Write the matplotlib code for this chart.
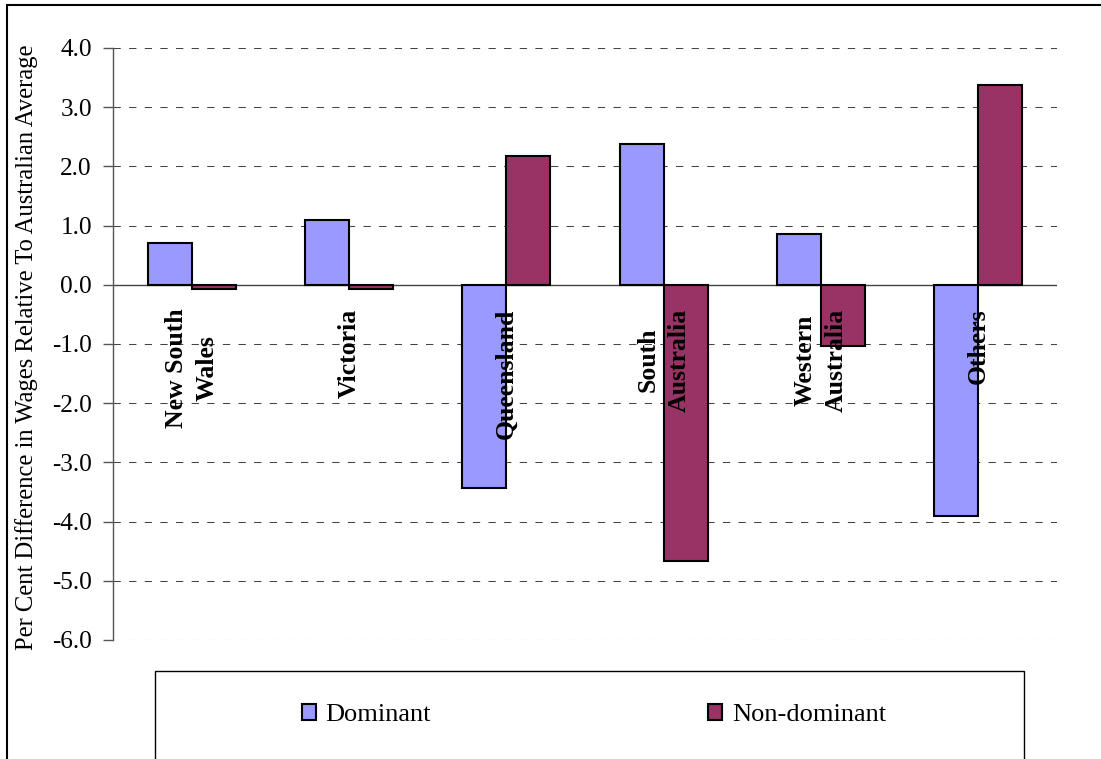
import matplotlib
matplotlib.use('Agg')
import matplotlib.pyplot as plt
from matplotlib.patches import Rectangle
import numpy as np

### wage differentials by state, dominant vs non-dominant
states = ['New South\nWales', 'Victoria', 'Queensland', 'South\nAustralia', 'Western\nAustralia', 'Others']
dominant = [0.70, 1.09, -3.43, 2.38, 0.85, -3.90]
non_dominant = [-0.07, -0.07, 2.17, -4.66, -1.03, 3.38]
yticks = [4.0, 3.0, 2.0, 1.0, 0.0, -1.0, -2.0, -3.0, -4.0, -5.0, -6.0]

plt.rcParams['font.family'] = 'Liberation Serif'
plt.rcParams['axes.unicode_minus'] = False

fig = plt.figure(figsize=(11.01, 7.59), dpi=100)
ax = fig.add_axes([113/1101, 1-640/759, (1057-113)/1101, (640-48)/759])

x = np.arange(len(states))
w = 0.28
b1 = ax.bar(x - w/2, dominant, w, color='#9999FF', edgecolor='black', linewidth=1.5, label='Dominant', zorder=3)
b2 = ax.bar(x + w/2, non_dominant, w, color='#993366', edgecolor='black', linewidth=1.5, label='Non-dominant', zorder=3)

ax.set_xlim(-0.5, len(states) - 0.5)
ax.set_ylim(min(yticks), max(yticks))
ax.set_yticks(yticks)
ax.set_yticklabels(['%.1f' % v for v in yticks], fontsize=18.2)
ax.tick_params(axis='y', length=7.2, width=1, color='#555555', pad=8)
ax.set_xticks([])

# dashed gridlines, solid zero line
for v in yticks:
    if v == 0:
        ax.axhline(v, color='#444444', lw=1, zorder=2)
    else:
        ax.axhline(v, color='#444444', lw=0.75, ls=(0, (7, 8)), zorder=1)

for s in ['top', 'right', 'bottom']:
    ax.spines[s].set_visible(False)
ax.spines['left'].set_color('#555555')
ax.spines['left'].set_linewidth(1)

# category names just under the zero line
for i, name in enumerate(states):
    ax.text(i, -0.40, name, rotation=90, ha='center', va='top', multialignment='center',
            linespacing=1.45, fontsize=18.5, fontweight='bold', zorder=4)

fig.text(27/1101, 1-347/759, 'Per Cent Difference in Wages Relative To Australian Average',
         rotation=90, ha='center', va='center', fontsize=17.7)

# outer frame and legend box
fig.patches.append(Rectangle((7/1101, -0.1), 1.1, 1-5/759+0.1, transform=fig.transFigure,
                             fill=False, edgecolor='black', lw=1.5))
fig.patches.append(Rectangle((155/1101, -0.1), (1024-155)/1101, 1-671/759+0.1, transform=fig.transFigure,
                             fill=False, edgecolor='black', lw=1))

fig.legend(handles=[b1, b2], loc='center', bbox_to_anchor=(594/1101, 1-715/759), ncol=2,
           frameon=False, fontsize=19, handlelength=0.53, handleheight=0.57, handletextpad=0.38,
           columnspacing=10.5)

fig.savefig('out.png', dpi=100)
